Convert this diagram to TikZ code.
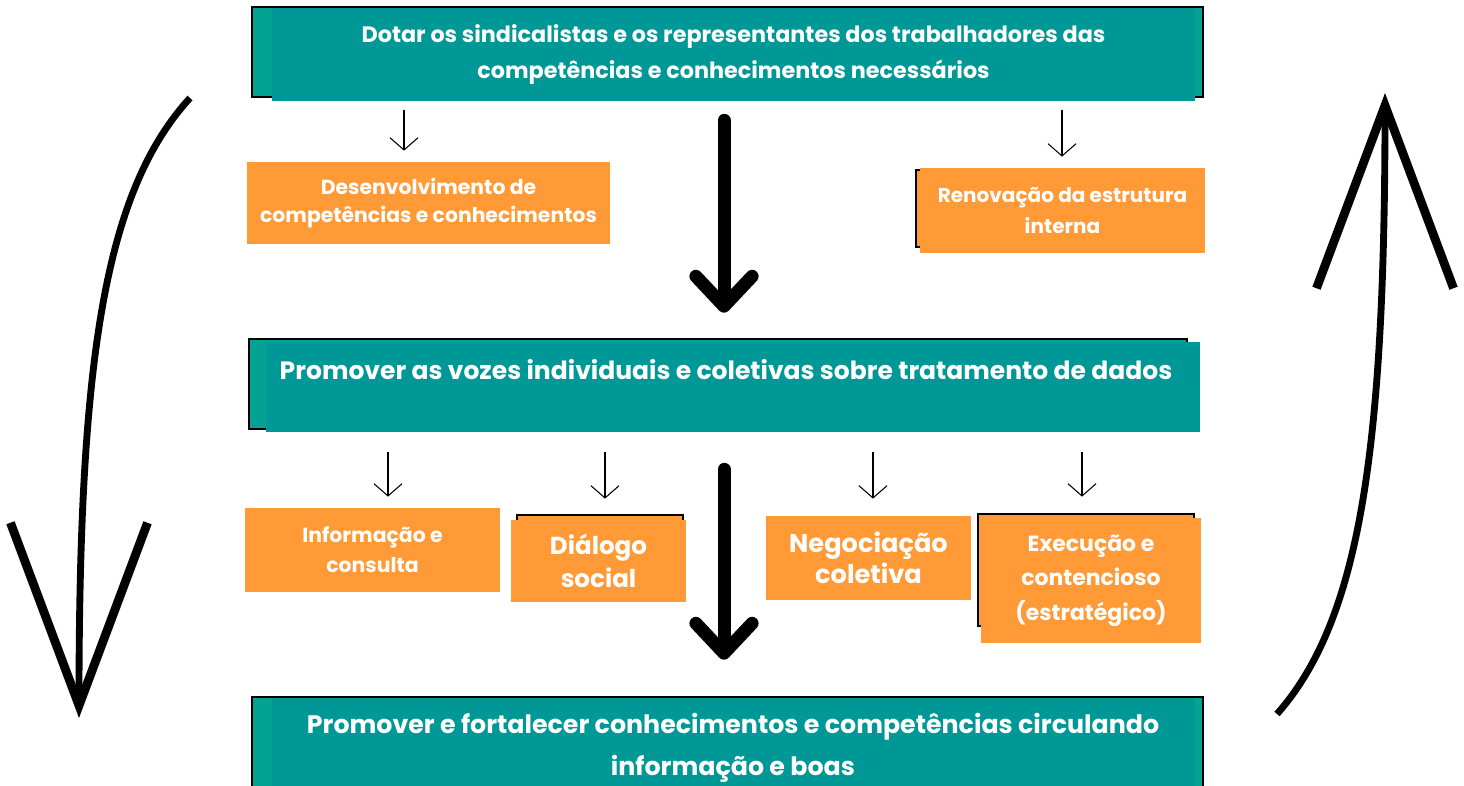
\documentclass[tikz,border=0pt]{standalone}
\usepackage{fontspec}
\setmainfont{Poppins}
\usetikzlibrary{arrows.meta}

\definecolor{tealbox}{HTML}{009896}
\definecolor{tealstrip}{HTML}{04A293}
\definecolor{orangebox}{HTML}{FF9A36}

\begin{document}
\begin{tikzpicture}[
    x=0.02cm, y=-0.02cm,
    tealnode/.style={fill=tealbox, inner sep=0pt, text=white, align=center},
    orangenode/.style={fill=orangebox, inner sep=0pt, text=white, align=center},
    textnode/.style={text=white, align=center},
    backbox/.style={draw=black, line width=0.6pt},
    smallarr/.style={-{Straight Barb[length=7pt,width=16pt]}, line width=0.6pt},
    bigarr/.style={-{Straight Barb[round,length=17pt,width=32pt]}, line width=7.4pt, line cap=round},
    sidearr/.style={-{Straight Barb[length=104pt,width=78pt,line width=5pt]}, line width=3.9pt}
  ]
    \path[fill=white, use as bounding box] (0,0) rectangle (1464,785);

    % boxes behind
    \draw[backbox, fill=tealstrip] (252,7) rectangle (1203,97);
    \draw[backbox, fill=tealstrip] (249,339) rectangle (1187,429);
    \draw[backbox, fill=tealstrip] (252,697) rectangle (1203,800);
    \draw[backbox, fill=orangebox] (916,170) rectangle (1198,247);
    \draw[backbox, fill=orangebox] (517,515) rectangle (683,598);
    \draw[backbox, fill=orangebox] (978,514) rectangle (1194,626);

    % teal boxes
    \node[tealnode, minimum width=18.46cm, minimum height=1.86cm,
      font={\fontsize{12.7}{20}\selectfont\bfseries}] (top) at (733.5,54.5)
      {Dotar os sindicalistas e os representantes dos trabalhadores das\\
       competências e conhecimentos necessários};
    \node[tealnode, minimum width=18.68cm, minimum height=1.8cm] (mid) at (733,387) {};
    \node[textnode, font={\fontsize{14.25}{20}\selectfont\bfseries}] (midtext) at (726,370)
      {Promover as vozes individuais e coletivas sobre tratamento de dados};
    \node[tealnode, minimum width=18.46cm, minimum height=2.04cm] (bottom) at (733.5,749) {};
    \node[textnode, font={\fontsize{14.4}{24}\selectfont\bfseries}] (bottomtext) at (733,748)
      {Promover e fortalecer conhecimentos e competências circulando\\
       informação e boas};

    % orange boxes
    \node[orangenode, minimum width=7.26cm, minimum height=1.64cm,
      font={\fontsize{11.6}{15.5}\selectfont\bfseries}] (desenv) at (428.5,203)
      {Desenvolvimento de\\competências e conhecimentos};
    \node[orangenode, minimum width=5.7cm, minimum height=1.7cm,
      font={\fontsize{11.4}{18}\selectfont\bfseries}] (renov) at (1062.5,210.5)
      {Renovação da estrutura\\interna};
    \node[orangenode, minimum width=5.1cm, minimum height=1.68cm,
      font={\fontsize{11.6}{17}\selectfont\bfseries}] (inform) at (372.5,550)
      {Informação e\\consulta};
    \node[orangenode, minimum width=3.5cm, minimum height=1.64cm,
      font={\fontsize{14}{19}\selectfont\bfseries}] (dialogo) at (598.5,561)
      {Diálogo\\social};
    \node[orangenode, minimum width=4.1cm, minimum height=1.68cm,
      font={\fontsize{14.6}{18}\selectfont\bfseries}] (negoc) at (868.5,558)
      {Negociação\\coletiva};
    \node[orangenode, minimum width=4.4cm, minimum height=2.5cm,
      font={\fontsize{12.5}{19.5}\selectfont\bfseries}] (exec) at (1091,580.5)
      {Execução e\\contencioso\\(estratégico)};

    % small arrows
    \foreach \n/\x in {desenv/404, renov/1062}
      \draw[smallarr, shorten <=0.18cm, shorten >=0.22cm] (top.south -| \x,0) -- (\n.north -| \x,0);
    \foreach \n/\x/\g in {inform/388/0.22, dialogo/605/0.42, negoc/873/0.34, exec/1082/0.42}
      \draw[smallarr, shorten <=0.4cm, shorten >=\g cm] (mid.south -| \x,0) -- (\n.north -| \x,0);

    % big arrows
    \draw[bigarr, shorten <=0.38cm, shorten >=0.58cm] (top.south -| 724,0) -- (mid.north -| 724,0);
    \draw[bigarr, shorten <=0.74cm, shorten >=0.76cm] (mid.south -| 724,0) -- (bottom.north -| 724,0);

    % side arrows
    \coordinate (lefttop) at (190,98);
    \coordinate (leftend) at (79,718);
    \coordinate (rightbot) at (1277,714);
    \coordinate (rightend) at (1385,93);
    \draw[sidearr] (lefttop) .. controls (104,192) and (79,362) .. (leftend);
    \draw[sidearr] (rightbot) .. controls (1360,620) and (1385,450) .. (rightend);
\end{tikzpicture}
\end{document}
